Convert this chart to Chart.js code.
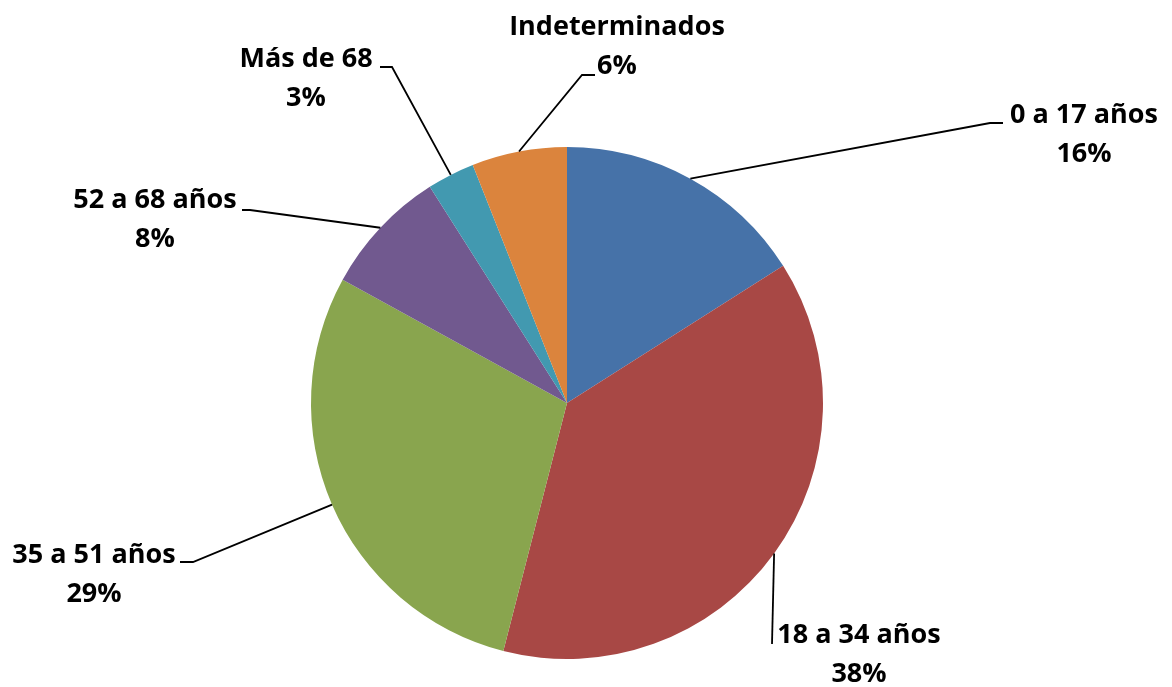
<!DOCTYPE html>
<html>
<head>
<meta charset="utf-8">
<script src="https://cdn.jsdelivr.net/npm/chart.js@4/dist/chart.umd.min.js"></script>
<style>
    html, body { margin: 0; padding: 0; background: #ffffff; }
    #wrap { width: 1172px; height: 687px; }
</style>
</head>
<body>
<div id="wrap"><canvas id="pieChart"></canvas></div>
<script>
// -- Data --
const categories = ["0 a 17 años", "18 a 34 años", "35 a 51 años", "52 a 68 años", "Más de 68", "Indeterminados"];
const percentages = [16, 38, 29, 8, 3, 6];
const sliceColors = ["#4672A8", "#A84845", "#89A54E", "#71598F", "#4299B0", "#DB843D"];

// -- Label layout (offsets from pie centre: elbow, tail, text centre of first line) --
const labelLayout = [
    { elbow: [423, -280], tail: [436, -280], text: [517, -288] },
    { elbow: [205, 241], tail: [205, 241], text: [292, 232] },
    { elbow: [-374, 159], tail: [-387, 159], text: [-473, 152] },
    { elbow: [-317, -193], tail: [-325, -193], text: [-412, -203] },
    { elbow: [-175, -336], tail: [-187, -336], text: [-261, -344] },
    { elbow: [15, -328], tail: [28, -328], text: [50, -376] }
];

const leaderLabels = {
    id: 'leaderLabels',
    afterDatasetsDraw(chart) {
        const ctx = chart.ctx;
        const meta = chart.getDatasetMeta(0);
        ctx.save();
        ctx.font = "bold 27px 'Open Sans'";
        ctx.textAlign = 'center';
        ctx.textBaseline = 'middle';
        meta.data.forEach((arc, i) => {
            const { x, y, startAngle, endAngle, outerRadius } = arc.getProps(['x', 'y', 'startAngle', 'endAngle', 'outerRadius'], true);
            const mid = (startAngle + endAngle) / 2;
            const sx = x + Math.cos(mid) * outerRadius;
            const sy = y + Math.sin(mid) * outerRadius;
            const lay = labelLayout[i];

            ctx.strokeStyle = '#000000';
            ctx.lineWidth = 1.8;
            ctx.beginPath();
            ctx.moveTo(sx, sy);
            ctx.lineTo(x + lay.elbow[0], y + lay.elbow[1]);
            ctx.lineTo(x + lay.tail[0], y + lay.tail[1]);
            ctx.stroke();

            ctx.fillStyle = '#000000';
            ctx.fillText(categories[i], x + lay.text[0], y + lay.text[1]);
            ctx.fillText(percentages[i] + '%', x + lay.text[0], y + lay.text[1] + 39);
        });
        ctx.restore();
    }
};

const ctx = document.getElementById('pieChart').getContext('2d');
new Chart(ctx, {
    type: 'pie',
    data: {
        labels: categories,
        datasets: [{
            data: percentages,
            backgroundColor: sliceColors,
            borderWidth: 0
        }]
    },
    options: {
        responsive: true,
        maintainAspectRatio: false,
        animation: false,
        layout: { padding: { top: 147, bottom: 28, left: 0, right: 38 } },
        plugins: {
            legend: { display: false },
            tooltip: { enabled: false }
        }
    },
    plugins: [leaderLabels]
});
</script>
</body>
</html>
